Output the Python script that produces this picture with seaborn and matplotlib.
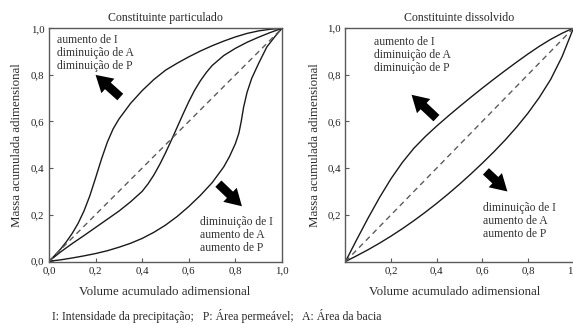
import numpy as np
import pandas as pd
import matplotlib
matplotlib.use("Agg")
import matplotlib.pyplot as plt
import seaborn as sns

# ---- data ----
part_upper_x = [0.0, 0.025, 0.05, 0.075, 0.1, 0.125, 0.15, 0.175, 0.2, 0.225, 0.25, 0.275, 0.3,
                0.35, 0.4, 0.45, 0.5, 0.55, 0.6, 0.65, 0.7, 0.75, 0.8, 0.85, 0.9, 0.95, 1.0]
part_upper_y = [0.0, 0.025, 0.0525, 0.084, 0.12, 0.1625, 0.215, 0.28, 0.3575, 0.4375, 0.51, 0.5675, 0.61,
                0.6775, 0.7325, 0.78, 0.82, 0.85, 0.8775, 0.9025, 0.925, 0.945, 0.963, 0.978, 0.989, 0.996, 1.0]

part_mid_x = [0.0, 0.05, 0.1, 0.15, 0.2, 0.25, 0.3, 0.35, 0.4, 0.425, 0.45, 0.475, 0.5, 0.525, 0.55,
              0.575, 0.6, 0.625, 0.65, 0.675, 0.7, 0.75, 0.8, 0.85, 0.9, 0.95, 1.0]
part_mid_y = [0.0, 0.04, 0.076, 0.11, 0.145, 0.18, 0.215, 0.255, 0.30, 0.332, 0.37, 0.415, 0.465, 0.519, 0.575,
              0.631, 0.685, 0.734, 0.775, 0.81, 0.84, 0.883, 0.914, 0.94, 0.962, 0.982, 1.0]

part_low_x = [0.0, 0.05, 0.1, 0.15, 0.2, 0.25, 0.3, 0.35, 0.4, 0.45, 0.5, 0.55, 0.6, 0.65, 0.7, 0.75,
              0.775, 0.8, 0.815, 0.825, 0.835, 0.85, 0.87, 0.9, 0.935, 0.97, 1.0]
part_low_y = [0.0, 0.006, 0.014, 0.023, 0.033, 0.045, 0.06, 0.077, 0.098, 0.124, 0.155, 0.192, 0.235, 0.283, 0.337, 0.405,
              0.45, 0.505, 0.55, 0.60, 0.66, 0.725, 0.785, 0.85, 0.92, 0.965, 1.0]

diss_upper_x = [0.0, 0.05, 0.1, 0.15, 0.2, 0.25, 0.3, 0.35, 0.4, 0.45, 0.5, 0.55, 0.6, 0.65, 0.7,
                0.75, 0.8, 0.85, 0.9, 0.95, 1.0]
diss_upper_y = [0.0, 0.095, 0.1875, 0.275, 0.355, 0.425, 0.485, 0.535, 0.58, 0.6225, 0.6635, 0.7035, 0.7425, 0.7805, 0.8175,
                0.8535, 0.8885, 0.9215, 0.9515, 0.9775, 1.0]

diss_low_x = [0.0, 0.05, 0.1, 0.15, 0.2, 0.25, 0.3, 0.35, 0.4, 0.45, 0.5, 0.55, 0.6, 0.65, 0.7,
              0.75, 0.8, 0.85, 0.9, 0.95, 1.0]
diss_low_y = [0.0, 0.025, 0.051, 0.079, 0.109, 0.141, 0.175, 0.211, 0.249, 0.289, 0.331, 0.375, 0.421, 0.469, 0.52,
              0.575, 0.635, 0.7025, 0.78, 0.8775, 1.0]

diag = [0.0, 1.0]

left_ticks = [0.0, 0.2, 0.4, 0.6, 0.8, 1.0]
left_ticklabels = ["0,0", "0,2", "0,4", "0,6", "0,8", "1,0"]
right_ticks = [0.2, 0.4, 0.6, 0.8, 1.0]
right_ticklabels = ["0,2", "0,4", "0,6", "0,8", "1,0"]

titles = ["Constituinte particulado", "Constituinte dissolvido"]
xlabel = "Volume acumulado adimensional"
ylabel = "Massa acumulada adimensional"
text_up = "aumento de I\ndiminuição de A\ndiminuição de P"
text_down = "diminuição de I\naumento de A\naumento de P"
footer = "I: Intensidade da precipitação;   P: Área permeável;   A: Área da bacia"

# ---- style ----
sns.set_theme(style="ticks")
plt.rcParams["font.family"] = ["Liberation Serif", "DejaVu Serif"]
plt.rcParams["axes.edgecolor"] = "#5a5a5a"
plt.rcParams["xtick.color"] = "#5a5a5a"
plt.rcParams["ytick.color"] = "#5a5a5a"
plt.rcParams["xtick.labelcolor"] = "#222222"
plt.rcParams["ytick.labelcolor"] = "#222222"

W, H = 573, 325
fig = plt.figure(figsize=(W / 100, H / 100), dpi=100)

def box(x0, x1, ytop, ybot):
    return [x0 / W, (H - ybot) / H, (x1 - x0) / W, (ybot - ytop) / H]

axL = fig.add_axes(box(48.5, 282, 28.3, 261.7))
axR = fig.add_axes(box(345, 573.5, 28, 262))

fs_tick = 7.8
fs_ann = 8.4
fs_lab = 9.3
txt_col = "#2a2a2a"

line_kw = dict(color="#1a1a1a", linewidth=1.0, sort=False, estimator=None)
dash_style = dict(linestyle=(0, (4, 3)), color="#5c5c5c", linewidth=1.0)

def curve(ax, xs, ys):
    sns.lineplot(x=xs, y=ys, ax=ax, **line_kw)

# left panel
curve(axL, part_upper_x, part_upper_y)
curve(axL, part_mid_x, part_mid_y)
curve(axL, part_low_x, part_low_y)
axL.plot(diag, diag, **dash_style)

# right panel
curve(axR, diss_upper_x, diss_upper_y)
curve(axR, diss_low_x, diss_low_y)
axR.plot(diag, diag, **dash_style)

for ax, ticks, labels, title in [(axL, left_ticks, left_ticklabels, titles[0]),
                                 (axR, right_ticks, right_ticklabels, titles[1])]:
    ax.set_xlim(-0.002, 1)
    ax.set_ylim(-0.002, 1)
    ax.set_xticks(ticks)
    ax.set_xticklabels(labels, fontsize=fs_tick)
    ax.set_yticks(ticks)
    ax.set_yticklabels(labels, fontsize=fs_tick)
    ax.tick_params(direction="in", length=3, width=0.8, pad=3)
    for s in ax.spines.values():
        s.set_linewidth(1.0)
    ax.set_title(title, fontsize=8.6, pad=5, color=txt_col)
    ax.set_xlabel("")
    ax.set_ylabel("")

# axis labels
fig.text(165 / W, 1 - 292 / H, xlabel, ha="center", va="center", fontsize=fs_lab, color=txt_col)
fig.text(455 / W, 1 - 292 / H, xlabel, ha="center", va="center", fontsize=fs_lab, color=txt_col)
fig.text(17 / W, 1 - 145 / H, ylabel, ha="center", va="center", rotation=90, fontsize=fs_lab, color=txt_col)
fig.text(315 / W, 1 - 145 / H, ylabel, ha="center", va="center", rotation=90, fontsize=fs_lab, color=txt_col)
fig.text(52 / W, 1 - 316 / H, footer, ha="left", va="center", fontsize=8.5, color=txt_col)

# annotations
tkw = dict(fontsize=fs_ann, color="#333333", va="center", ha="left", linespacing=1.12)
axL.text(0.035, 0.894, text_up, **tkw)
axL.text(0.649, 0.114, text_down, **tkw)
axR.text(0.125, 0.885, text_up, **tkw)
axR.text(0.601, 0.172, text_down, **tkw)

akw = dict(arrowstyle="simple,head_length=0.85,head_width=1.0,tail_width=0.45",
           color="black", lw=0, shrinkA=0, shrinkB=0, mutation_scale=14)
axL.annotate("", xy=(0.20, 0.80), xytext=(0.306, 0.705), arrowprops=akw)
axL.annotate("", xy=(0.828, 0.236), xytext=(0.727, 0.333), arrowprops=akw)
axR.annotate("", xy=(0.29, 0.714), xytext=(0.399, 0.614), arrowprops=akw)
axR.annotate("", xy=(0.71, 0.30), xytext=(0.616, 0.386), arrowprops=akw)

fig.savefig("out.png", dpi=100)
